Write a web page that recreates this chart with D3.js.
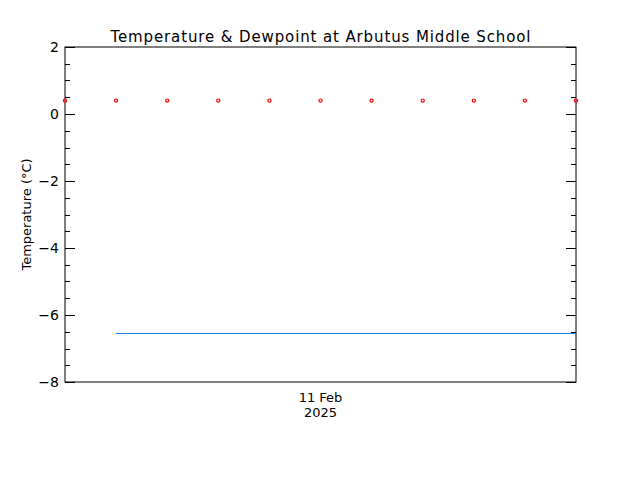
<!DOCTYPE html>
<html>
<head>
<meta charset="utf-8">
<script src="https://cdn.jsdelivr.net/npm/d3@7"></script>
<style>
  body { margin: 0; background: #fff; }
  text { font-family: "DejaVu Sans", sans-serif; fill: #000; }
</style>
</head>
<body>
<div id="chart"></div>
<script>
// data
let times = ['2025-02-11T00:00', '2025-02-11T00:05', '2025-02-11T00:10', '2025-02-11T00:15',
  '2025-02-11T00:20', '2025-02-11T00:25', '2025-02-11T00:30', '2025-02-11T00:35',
  '2025-02-11T00:40', '2025-02-11T00:45', '2025-02-11T00:50'];
let temperature = [0.4, 0.4, 0.4, 0.4, 0.4, 0.4, 0.4, 0.4, 0.4, 0.4, 0.4];
let dewpoint = [null, -6.55, -6.55, -6.55, -6.55, -6.55, -6.55, -6.55, -6.55, -6.55, -6.55];
let yTicks = [-8, -6, -4, -2, 0, 2];
let dateLabel = ['11 Feb', '2025'];

let svgWidth = 640;
let svgHeight = 480;

let margin = { top: 47, right: 64, bottom: 98, left: 65 };
let width = svgWidth - margin.left - margin.right;
let height = svgHeight - margin.top - margin.bottom;

let parseTime = d3.isoParse;
let points = times.map((t, i) => ({ t: parseTime(t), temp: temperature[i], dew: dewpoint[i] }));

let svg = d3.select('#chart').append('svg')
  .attr('width', svgWidth)
  .attr('height', svgHeight);

let chartGroup = svg.append('g')
  .attr('transform', `translate(${margin.left}, ${margin.top})`);

// scales
let xScale = d3.scaleTime()
  .domain(d3.extent(points, d => d.t))
  .range([0, width]);

let yScale = d3.scaleLinear()
  .domain([-8, 2])
  .range([height, 0]);

// frame
chartGroup.append('rect')
  .attr('width', width)
  .attr('height', height)
  .attr('fill', 'none')
  .attr('stroke', '#000')
  .attr('stroke-width', 1);

// y ticks, major and minor, both sides pointing in
let minor = d3.range(-8, 2.01, 0.5).filter(v => !yTicks.includes(v));
let tickGroup = chartGroup.append('g')
  .attr('stroke', '#000')
  .attr('stroke-width', 1)
  .attr('shape-rendering', 'crispEdges');

yTicks.forEach(v => {
  let y = Math.round(yScale(v)) + 0.5;
  tickGroup.append('line').attr('x1', 0).attr('x2', 10).attr('y1', y).attr('y2', y);
  tickGroup.append('line').attr('x1', width - 10).attr('x2', width).attr('y1', y).attr('y2', y);
});
minor.forEach(v => {
  let y = Math.round(yScale(v)) + 0.5;
  tickGroup.append('line').attr('x1', 0).attr('x2', 5).attr('y1', y).attr('y2', y);
  tickGroup.append('line').attr('x1', width - 5).attr('x2', width).attr('y1', y).attr('y2', y);
});

// y tick labels
chartGroup.selectAll('.yLabel')
  .data(yTicks)
  .enter()
  .append('text')
  .classed('yLabel', true)
  .attr('x', -6)
  .attr('y', d => yScale(d))
  .attr('dy', '0.36em')
  .attr('text-anchor', 'end')
  .attr('font-size', '14px')
  .text(d => d < 0 ? '\u2212' + Math.abs(d) : d);

// dewpoint line
let line = d3.line()
  .defined(d => d.dew !== null)
  .x(d => xScale(d.t))
  .y(d => yScale(d.dew));

chartGroup.append('path')
  .datum(points)
  .attr('d', line)
  .attr('fill', 'none')
  .attr('stroke', '#1e78dc')
  .attr('stroke-width', 1)
  .attr('shape-rendering', 'crispEdges');

// temperature markers
chartGroup.append('g')
  .selectAll('circle')
  .data(points)
  .enter()
  .append('circle')
  .attr('cx', d => xScale(d.t))
  .attr('cy', d => yScale(d.temp))
  .attr('r', 1.6)
  .attr('fill', 'none')
  .attr('stroke', '#ff0000')
  .attr('stroke-width', 1.2);

// date label under the middle time
let midTime = points[Math.floor(points.length / 2)].t;
chartGroup.append('text')
  .attr('x', xScale(midTime))
  .attr('y', height + 20)
  .attr('text-anchor', 'middle')
  .attr('font-size', '13px')
  .selectAll('tspan')
  .data(dateLabel)
  .enter()
  .append('tspan')
  .attr('x', xScale(midTime))
  .attr('dy', (d, i) => i === 0 ? 0 : 15)
  .text(d => d);

// title
svg.append('text')
  .attr('x', margin.left + width / 2)
  .attr('y', 42)
  .attr('text-anchor', 'middle')
  .attr('font-size', '15px')
  .attr('textLength', 420)
  .attr('lengthAdjust', 'spacing')
  .text('Temperature & Dewpoint at Arbutus Middle School');

// y axis title
svg.append('text')
  .attr('transform', `translate(31, ${margin.top + height / 2}) rotate(-90)`)
  .attr('text-anchor', 'middle')
  .attr('font-size', '13px')
  .text('Temperature (\u00B0C)');
</script>
</body>
</html>
